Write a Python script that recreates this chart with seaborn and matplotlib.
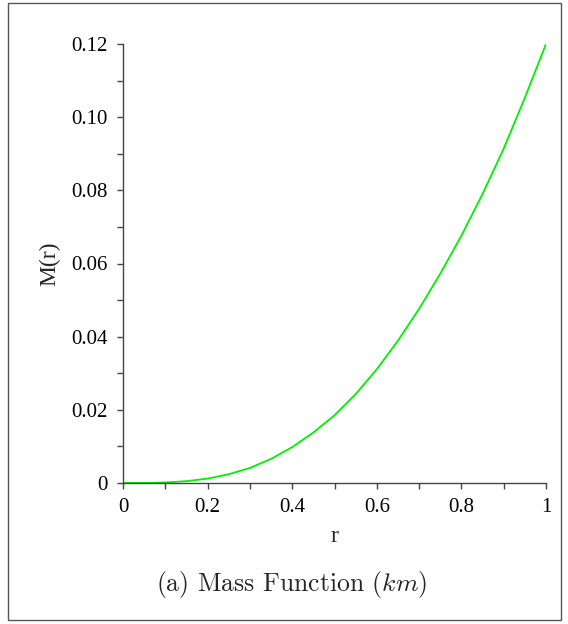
import numpy as np
import pandas as pd
import matplotlib
matplotlib.use("Agg")
import matplotlib.pyplot as plt
import seaborn as sns
from matplotlib.patches import Rectangle
from matplotlib.ticker import MultipleLocator, FixedLocator, FixedFormatter

# Data
r_values = [0.0, 0.05, 0.1, 0.15, 0.2, 0.25, 0.3, 0.35, 0.4, 0.45, 0.5,
            0.55, 0.6, 0.65, 0.7, 0.75, 0.8, 0.85, 0.9, 0.95, 1.0]
m_values = [0.0, 0.00002, 0.00015, 0.0005, 0.0012, 0.0024, 0.0041, 0.0066,
            0.0098, 0.0138, 0.0185, 0.0243, 0.0311, 0.0389, 0.0476, 0.0572,
            0.0676, 0.0790, 0.0914, 0.1053, 0.1200]
x_ticks = [0, 0.2, 0.4, 0.6, 0.8, 1.0]
x_tick_labels = ["0", "0.2", "0.4", "0.6", "0.8", "1"]
y_ticks = [0, 0.02, 0.04, 0.06, 0.08, 0.10, 0.12]
y_tick_labels = ["0", "0.02", "0.04", "0.06", "0.08", "0.10", "0.12"]
x_label = "r"
y_label = "M(r)"
caption = r"(a) Mass Function ($km$)"

sns.set_style("white")
plt.rcParams["font.family"] = ["Liberation Serif", "DejaVu Serif"]
plt.rcParams["mathtext.fontset"] = "cm"

df = pd.DataFrame({"r": r_values, "M": m_values})

fig = plt.figure(figsize=(5.68, 6.24), dpi=100)
ax = fig.add_axes([123 / 568, 1 - 483 / 624, (546 - 123) / 568, (483 - 44) / 624])

sns.lineplot(data=df, x="r", y="M", ax=ax, color="#00f000", linewidth=1.3)

ax.set_xlim(0, 1)
ax.set_ylim(0, 0.12)
ax.margins(0)

for s in ["top", "right"]:
    ax.spines[s].set_visible(False)
for s in ["left", "bottom"]:
    ax.spines[s].set_color("#444444")
    ax.spines[s].set_linewidth(1.0)

ax.xaxis.set_major_locator(FixedLocator(x_ticks))
ax.xaxis.set_major_formatter(FixedFormatter(x_tick_labels))
ax.yaxis.set_major_locator(FixedLocator(y_ticks))
ax.yaxis.set_major_formatter(FixedFormatter(y_tick_labels))
ax.xaxis.set_minor_locator(MultipleLocator(0.1))
ax.yaxis.set_minor_locator(MultipleLocator(0.01))
ax.tick_params(which="both", direction="out", length=4, width=1.0,
               color="#444444", labelsize=15, labelcolor="black",
               bottom=True, left=True)
ax.tick_params(axis="y", pad=7)
ax.tick_params(axis="x", pad=7)

ax.set_xlabel(x_label, fontsize=17, labelpad=6)
ax.set_ylabel(y_label, fontsize=17, labelpad=8)

fig.text(292 / 568, 1 - 585 / 624, caption, fontsize=18.5, ha="center", va="center",
         family="cmr10")

fig.patches.append(Rectangle((8 / 568, 1 - 620 / 624), (561 - 8) / 568, (620 - 3) / 624,
                             transform=fig.transFigure, fill=False,
                             edgecolor="#555555", linewidth=1.0))

fig.savefig("out.png", dpi=100)
